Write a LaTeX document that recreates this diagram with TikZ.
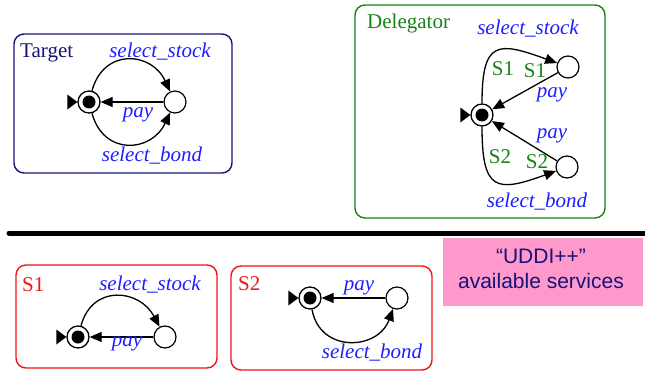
\documentclass[tikz,border=0pt]{standalone}
\usepackage{fontspec}
\setmainfont{Liberation Serif}
\setsansfont{Liberation Sans}
\usetikzlibrary{arrows.meta}
\definecolor{navy}{RGB}{20,20,120}
\definecolor{lblue}{RGB}{30,30,255}
\definecolor{dgreen}{RGB}{20,130,20}
\definecolor{bred}{RGB}{240,20,20}
\definecolor{pinkbg}{RGB}{255,153,204}
\tikzset{
  box/.style={line width=1.4pt, rounded corners=10pt},
  lbl/.style={inner sep=0pt, anchor=base, text=lblue, font=\fontsize{21}{25}\selectfont\itshape},
  glbl/.style={inner sep=0pt, anchor=base, text=dgreen, font=\fontsize{21}{25}\selectfont},
  title/.style={inner sep=0pt, anchor=base west, font=\fontsize{21}{25}\selectfont},
  initst/.style={circle, draw, line width=1.3pt, minimum size=22pt, inner sep=0pt,
    path picture={\fill (path picture bounding box.center) circle (6.5pt);}},
  st/.style={circle, draw, line width=1.2pt, minimum size=22pt, inner sep=0pt},
  trans/.style={line width=1.3pt, -{Triangle[length=12pt,width=10pt]}},
  starttri/.style={fill=black}
}
\newcommand{\starttip}[1]{\fill[starttri] (#1.west) -- ++(-10,7.5) -- ++(0,-15) -- cycle;}
\begin{document}
\begin{tikzpicture}[x=1pt,y=1pt]
\useasboundingbox (0,0) rectangle (645,373);

% ---------- Target ----------
\draw[box, navy] (14,200) rectangle (232,339);
\node[title, text=navy] (tT) at (20,315) {Target};
\node[initst] (iT) at (89,271) {};
\node[st] (sT) at (175,271) {};
\starttip{iT}
\draw[trans] (iT) to[out=75,in=115,looseness=1.45] (sT);
\draw[trans] (iT) to[out=-75,in=-115,looseness=1.45] (sT);
\draw[trans] (sT) -- (iT);
\node[lbl] (tss) at (160,315) {select\_stock};
\node[lbl] (tpay) at (138,256) {pay};
\node[lbl] (tsb) at (152,212) {select\_bond};

% ---------- Delegator ----------
\draw[box, dgreen] (355,155) rectangle (605,368);
\node[title, text=dgreen] (dT) at (367,344) {Delegator};
\node[initst] (iD) at (482,258) {};
\node[st] (s1D) at (568,306) {};
\node[st] (s2D) at (567,206) {};
\starttip{iD}
\draw[trans] (iD) to[out=90,in=160,looseness=1.9] (s1D);
\draw[trans] (iD) to[out=-90,in=-160,looseness=1.9] (s2D);
\draw[trans] (s1D) -- (iD);
\draw[trans] (s2D) -- (iD);
\node[lbl] (dss) at (528,338) {select\_stock};
\node[glbl] (dg1) at (503,298) {S1};
\node[glbl] (dg2) at (535,295) {S1};
\node[lbl] (dp1) at (552,276) {pay};
\node[lbl] (dp2) at (552,235) {pay};
\node[glbl] (dg3) at (500,210) {S2};
\node[glbl] (dg4) at (537,205) {S2};
\node[lbl] (dsb) at (537,166) {select\_bond};

% ---------- separator ----------
\coordinate (rl) at (9,140);
\coordinate (rr) at (645,140);
\draw[line width=5pt, line cap=round] (rl) -- (rr);

% ---------- UDDI box ----------
\fill[pinkbg] (443,67) rectangle (643,135);
\node[inner sep=0pt, anchor=base, text=navy, font=\sffamily\fontsize{21}{25}\selectfont] (u1) at (541,110) {“UDDI++”};
\node[inner sep=0pt, anchor=base, text=navy, font=\sffamily\fontsize{21}{25}\selectfont] (u2) at (541,85) {available services};

% ---------- S1 ----------
\draw[box, bred] (16,5) rectangle (217,108);
\node[title, text=bred] (s1T) at (22,82) {S1};
\node[initst] (iA) at (78,36) {};
\node[st] (sA) at (165,36) {};
\starttip{iA}
\draw[trans] (iA) to[out=75,in=118,looseness=1.4] (sA);
\draw[trans] (sA) -- (iA);
\node[lbl] (ass) at (150,83) {select\_stock};
\node[lbl] (apay) at (127,27) {pay};

% ---------- S2 ----------
\draw[box, bred] (231,3) rectangle (432,107);
\node[title, text=bred] (s2T) at (238,83) {S2};
\node[initst] (iB) at (310,75) {};
\node[st] (sB) at (397,75) {};
\starttip{iB}
\draw[trans] (iB) to[out=-80,in=-110,looseness=1.4] (sB);
\draw[trans] (sB) -- (iB);
\node[lbl] (bpay) at (359,83) {pay};
\node[lbl] (bsb) at (372,15) {select\_bond};
\end{tikzpicture}
\end{document}
